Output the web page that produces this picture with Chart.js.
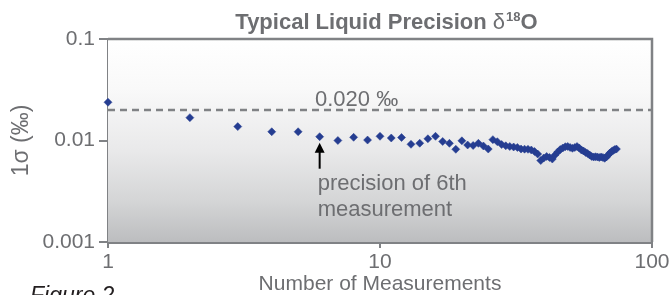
<!DOCTYPE html>
<html>
<head>
<meta charset="utf-8">
<script src="https://cdn.jsdelivr.net/npm/chart.js@4/dist/chart.umd.min.js"></script>
<style>
html,body{margin:0;padding:0;background:#ffffff;}
#c{display:block;}
</style>
</head>
<body>
<canvas id="c" width="672" height="295"></canvas>
<script>
// ---- data ----
const measurementCounts = [
  1,2,3,4,5,6,7,8,9,10,11,12,13,14,15,16,17,18,19,20,
  21,22,23,24,25,26,27,28,29,30,31,32,33,34,35,36,37,38,39,40,
  41,42,43,44,45,46,47,48,49,50,51,52,53,54,55,56,57,58,59,60,
  61,62,63,64,65,66,67,68,69,70,71,72,73,74
];
const precisionValues = [
  0.0238,0.0168,0.0137,0.0122,0.0122,0.0109,0.0100,0.01075,0.0101,0.0110,
  0.01058,0.0107,0.00917,0.0094,0.0104,0.0110,0.00978,0.00938,0.00819,0.00993,
  0.00903,0.00893,0.00938,0.00883,0.00824,0.0102,0.00973,0.00913,0.00887,0.00873,
  0.00863,0.00853,0.00824,0.00821,0.00819,0.00806,0.00779,0.00736,0.00635,0.00672,
  0.00696,0.0068,0.00657,0.00719,0.0077,0.00815,0.00844,0.00869,0.00873,0.00853,
  0.00838,0.00853,0.00873,0.00844,0.00806,0.00788,0.00762,0.00745,0.00719,0.00696,
  0.00688,0.00692,0.00688,0.0068,0.00688,0.0068,0.00668,0.00688,0.00719,0.00753,
  0.00779,0.00797,0.00815,0.00824
];
const thresholdValue = 0.020;
const xTickValues = [1, 10, 100];
const yTickValues = [0.001, 0.01, 0.1];
const highlightIndex = 6;

const titleText = "Typical Liquid Precision ";
const xTitle = "Number of Measurements";
const yTitle = "1\u03C3 (\u2030)";
const thresholdLabel = "0.020 \u2030";
const noteLines = ["precision of 6th", "measurement"];
const figureLabel = "Figure 2";

const GREY_TEXT = '#6d6e71';
const AXIS = '#808285';
const FONT = "'Liberation Sans', Arial, sans-serif";

const points = measurementCounts.map((n, i) => ({x: n, y: precisionValues[i]}));
const thresholdLine = [{x: xTickValues[0], y: thresholdValue}, {x: xTickValues[xTickValues.length-1], y: thresholdValue}];

const decor = {
  id: 'decor',
  beforeDatasetsDraw(chart) {
    const {ctx, chartArea: a} = chart;
    ctx.save();
    const g = ctx.createLinearGradient(0, a.top, 0, a.bottom);
    g.addColorStop(0, '#ffffff');
    g.addColorStop(0.25, '#f9f9f9');
    g.addColorStop(0.55, '#e9e9ea');
    g.addColorStop(0.8, '#d4d5d6');
    g.addColorStop(1, '#bcbdbf');
    ctx.fillStyle = g;
    ctx.fillRect(a.left, a.top, a.right - a.left, a.bottom - a.top);
    ctx.restore();
  },
  afterDraw(chart) {
    const {ctx, chartArea: a, scales} = chart;
    const xs = scales.x, ys = scales.y;
    ctx.save();
    // top & right frame
    ctx.strokeStyle = AXIS;
    ctx.lineWidth = 2.5;
    ctx.beginPath();
    ctx.moveTo(a.left, a.top);
    ctx.lineTo(a.right, a.top);
    ctx.lineTo(a.right, a.bottom);
    ctx.stroke();

    // title
    ctx.fillStyle = GREY_TEXT;
    ctx.textBaseline = 'alphabetic';
    const boldF = "bold 22px " + FONT;
    const regF = "22px " + FONT;
    const supF = "bold 13px " + FONT;
    ctx.font = boldF; const w1 = ctx.measureText(titleText).width;
    ctx.font = regF; const w2 = ctx.measureText('\u03B4').width;
    ctx.font = supF; const w3 = ctx.measureText('18').width;
    ctx.font = boldF; const w4 = ctx.measureText('O').width;
    let tx = 386 - (w1 + w2 + w3 + w4) / 2;
    const ty = 29;
    ctx.textAlign = 'left';
    ctx.font = boldF; ctx.fillText(titleText, tx, ty); tx += w1;
    ctx.font = regF; ctx.fillText('\u03B4', tx, ty); tx += w2 + 1;
    ctx.font = supF; ctx.fillText('18', tx, ty - 8); tx += w3;
    ctx.font = boldF; ctx.fillText('O', tx, ty);

    // threshold label
    ctx.font = "22px " + FONT;
    ctx.textAlign = 'left';
    ctx.fillText(thresholdLabel, 315, ys.getPixelForValue(thresholdValue) - 4);

    // arrow to 6th measurement
    const px = xs.getPixelForValue(measurementCounts[highlightIndex - 1]);
    const py = ys.getPixelForValue(precisionValues[highlightIndex - 1]);
    ctx.strokeStyle = '#000000';
    ctx.fillStyle = '#000000';
    ctx.lineWidth = 2;
    ctx.beginPath();
    ctx.moveTo(px, py + 12);
    ctx.lineTo(px, py + 32);
    ctx.stroke();
    ctx.beginPath();
    ctx.moveTo(px, py + 6);
    ctx.lineTo(px - 5, py + 16);
    ctx.lineTo(px + 5, py + 16);
    ctx.closePath();
    ctx.fill();

    // note text
    ctx.fillStyle = GREY_TEXT;
    ctx.font = "22px " + FONT;
    ctx.textAlign = 'left';
    ctx.fillText(noteLines[0], px - 2, 190);
    ctx.fillText(noteLines[1], px - 2, 216);

    // axis titles
    ctx.font = "21px " + FONT;
    ctx.textAlign = 'center';
    ctx.fillText(xTitle, (a.left + a.right) / 2, 290);
    ctx.save();
    ctx.font = "23px " + FONT;
    ctx.translate(28, (a.top + a.bottom) / 2);
    ctx.rotate(-Math.PI / 2);
    ctx.fillText(yTitle, 0, 0);
    ctx.restore();

    // figure label
    ctx.font = "italic 23px " + FONT;
    ctx.textAlign = 'left';
    ctx.fillStyle = '#231f20';
    ctx.fillText(figureLabel, 30, 303);
    ctx.restore();
  }
};

new Chart(document.getElementById('c'), {
  type: 'scatter',
  data: {
    datasets: [
      {
        data: points,
        pointStyle: 'rectRot',
        pointRadius: 4,
        pointBackgroundColor: '#253d91',
        pointBorderColor: '#253d91',
        pointBorderWidth: 0.5,
        showLine: false,
        clip: false,
        order: 1
      },
      {
        data: thresholdLine,
        showLine: true,
        borderColor: AXIS,
        borderWidth: 2.5,
        borderDash: [7, 5],
        pointRadius: 0,
        order: 2
      }
    ]
  },
  options: {
    responsive: false,
    animation: false,
    devicePixelRatio: 1,
    layout: {padding: {top: 39, right: 20, left: 0, bottom: 0}},
    plugins: {legend: {display: false}, tooltip: {enabled: false}, title: {display: false}},
    scales: {
      x: {
        type: 'logarithmic',
        min: 1, max: 100,
        afterFit(s) { s.height = 53; },
        afterBuildTicks(s) { s.ticks = xTickValues.map(v => ({value: v})); },
        ticks: {
          callback: v => String(v),
          color: GREY_TEXT,
          font: {family: FONT, size: 21},
          padding: 2,
          maxRotation: 0,
          autoSkip: false
        },
        grid: {drawOnChartArea: false, drawTicks: true, tickLength: 6, color: AXIS, lineWidth: 2},
        border: {color: AXIS, width: 3}
      },
      y: {
        type: 'logarithmic',
        min: 0.001, max: 0.1,
        afterFit(s) { s.width = 108; },
        afterBuildTicks(s) { s.ticks = yTickValues.map(v => ({value: v})); },
        ticks: {
          callback: v => String(v),
          color: GREY_TEXT,
          font: {family: FONT, size: 21},
          padding: 4,
          autoSkip: false
        },
        grid: {drawOnChartArea: false, drawTicks: true, tickLength: 9, color: AXIS, lineWidth: 2},
        border: {color: AXIS, width: 3}
      }
    }
  },
  plugins: [decor]
});
</script>
</body>
</html>
